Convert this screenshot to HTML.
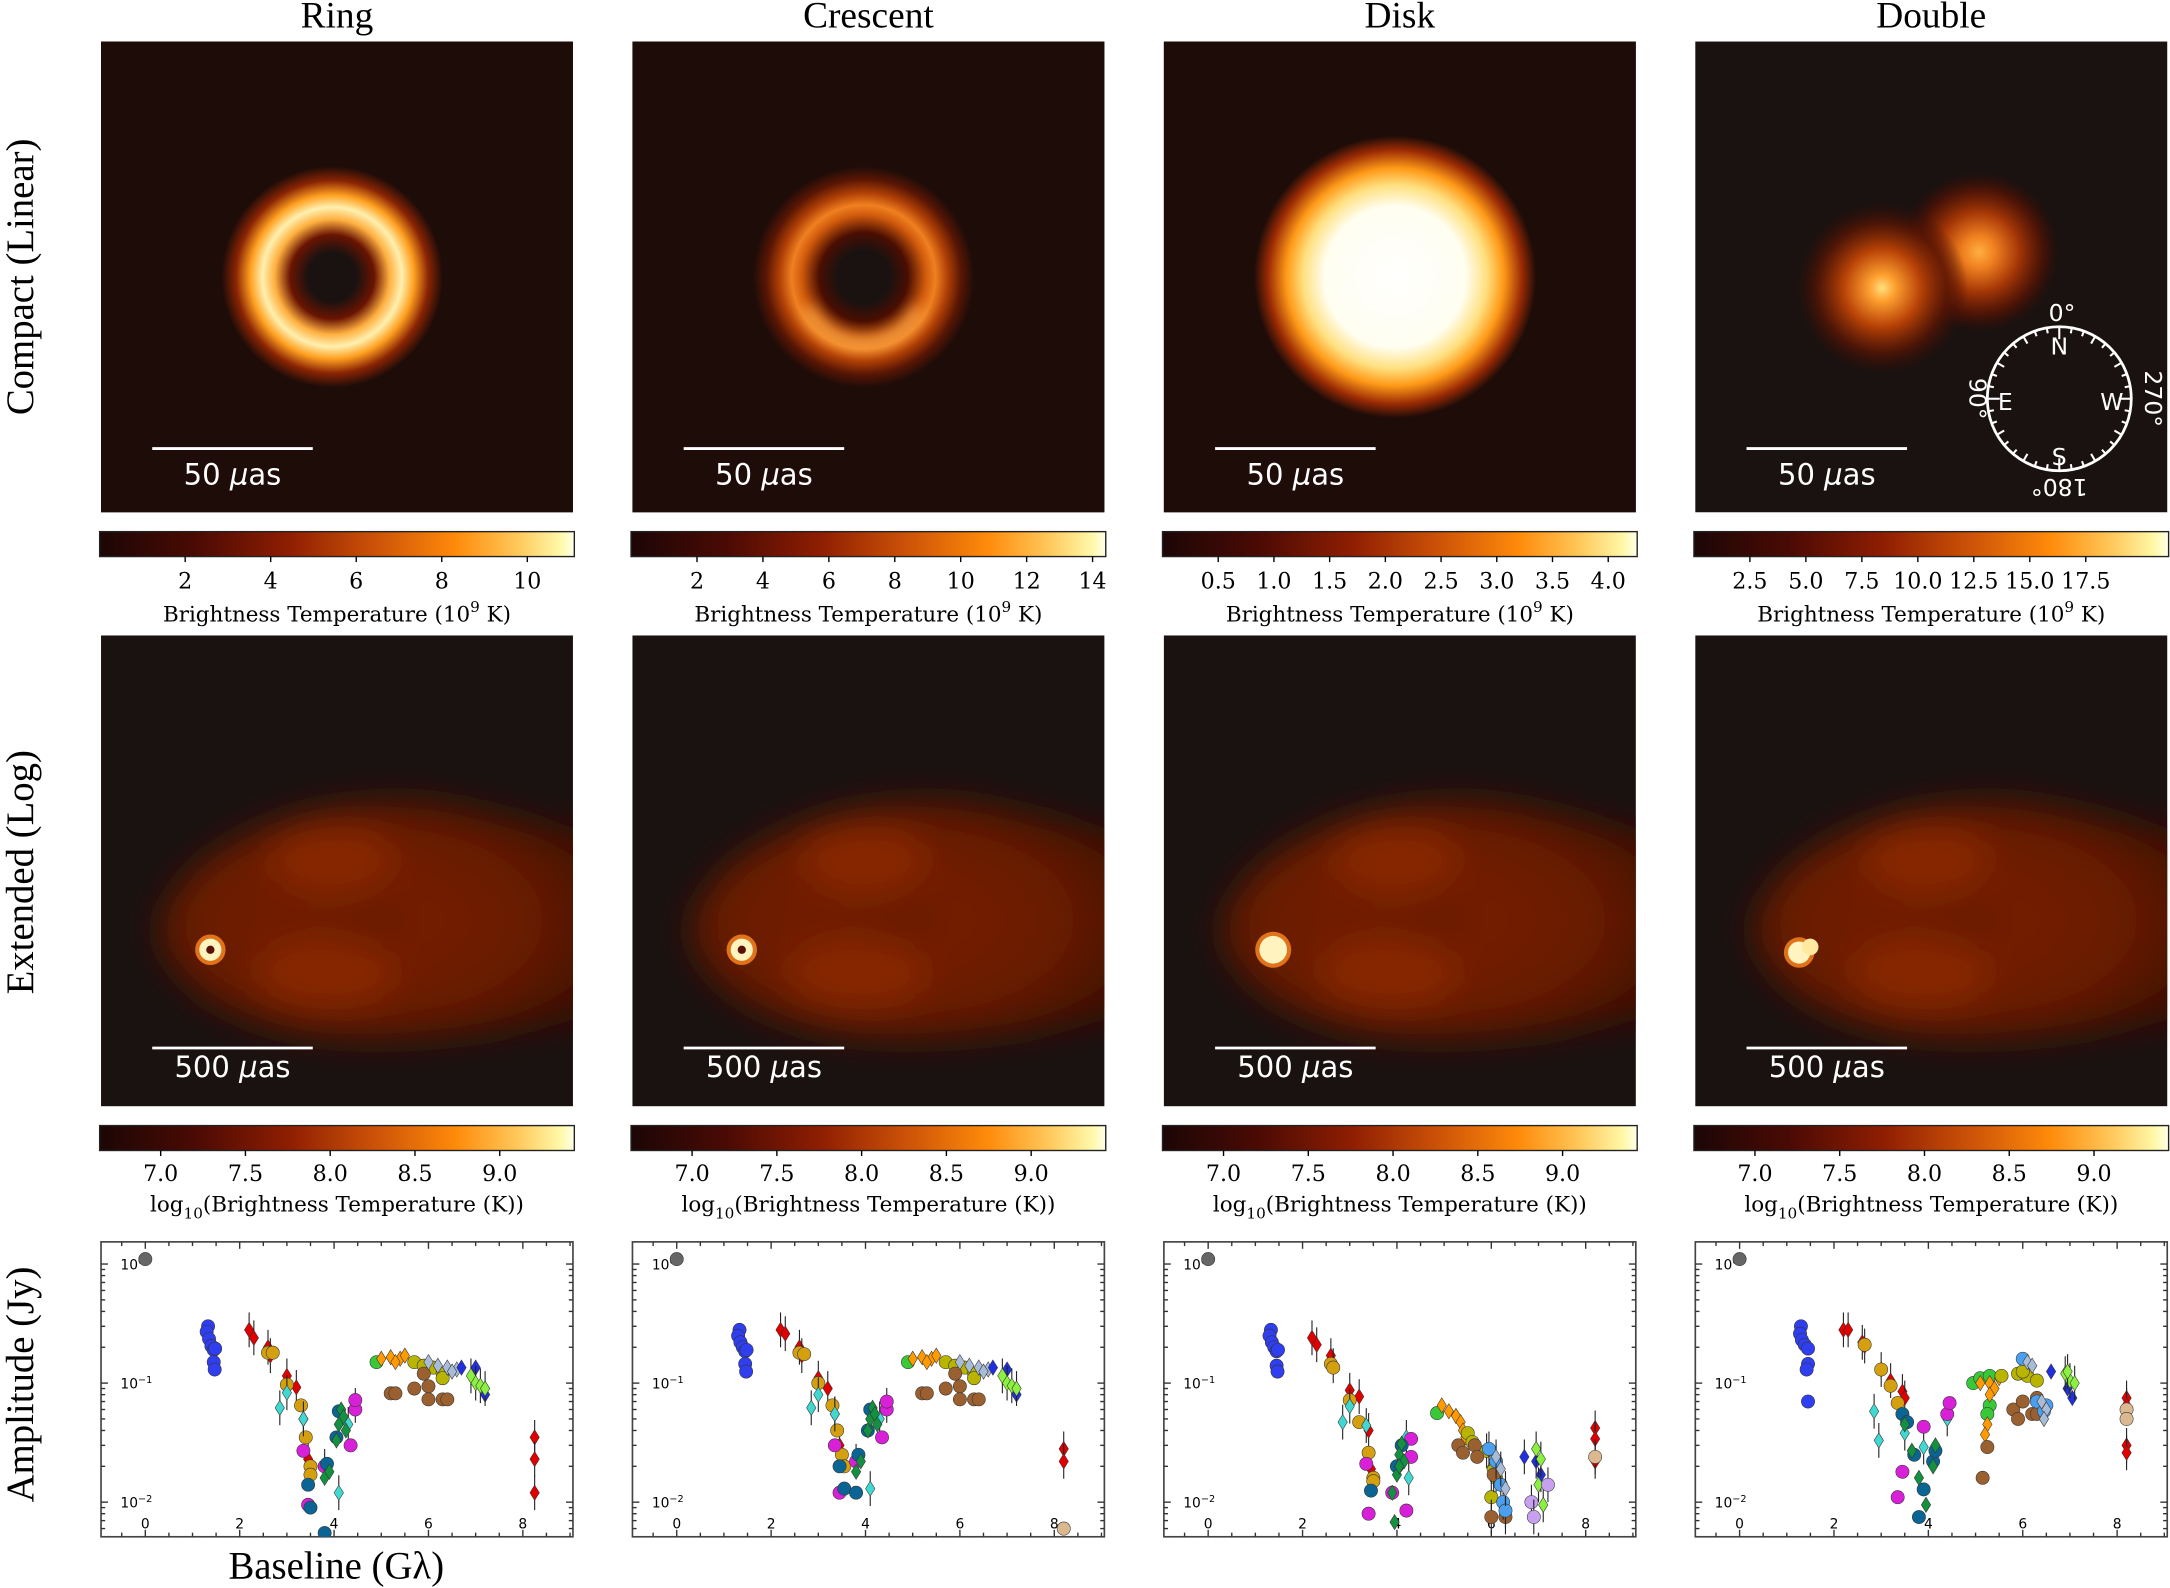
<!DOCTYPE html>
<html><head><meta charset="utf-8"><style>
html,body{margin:0;padding:0;background:#fff;}
svg{display:block;}
.ti{font-family:"Liberation Serif",serif;font-size:27px;fill:#000;}
.rl{font-family:"Liberation Serif",serif;font-size:28px;fill:#000;}
.tk{font-family:"DejaVu Serif","Liberation Serif",serif;font-size:16px;fill:#000;}
.cl{font-family:"DejaVu Serif","Liberation Serif",serif;font-size:15.5px;fill:#000;}
.sb{font-family:"DejaVu Sans","Liberation Sans",sans-serif;font-size:21px;fill:#fff;}
.cp{font-family:"DejaVu Sans","Liberation Sans",sans-serif;font-size:17px;fill:#fff;}
.sm{font-family:"DejaVu Sans","Liberation Sans",sans-serif;font-size:10px;fill:#000;}
</style></head><body>
<svg id="fig" xmlns="http://www.w3.org/2000/svg" width="2170" height="1588" viewBox="0 0 1568 1147" preserveAspectRatio="none">
<defs>
<linearGradient id="cmap" x1="0" x2="1" y1="0" y2="0">
<stop offset="0" stop-color="#1c0606"/><stop offset="0.2" stop-color="#4a0a04"/><stop offset="0.4" stop-color="#8f1e02"/><stop offset="0.6" stop-color="#d25808"/><stop offset="0.75" stop-color="#ff8a0a"/><stop offset="0.88" stop-color="#ffc85a"/><stop offset="0.97" stop-color="#fff8a8"/><stop offset="1" stop-color="#ffffe8"/>
</linearGradient>
<radialGradient id="gRing" gradientUnits="userSpaceOnUse" cx="240" cy="200" r="80">
<stop offset="0" stop-color="#1a1210"/><stop offset="0.22" stop-color="#1a1210"/><stop offset="0.38" stop-color="#6a1402"/><stop offset="0.52" stop-color="#ffb040"/><stop offset="0.63" stop-color="#fff0b0"/><stop offset="0.74" stop-color="#ffa020"/><stop offset="0.87" stop-color="#8a2404"/><stop offset="1" stop-color="#1e0c08"/>
</radialGradient>
<radialGradient id="gCres" gradientUnits="userSpaceOnUse" cx="624" cy="200" r="80">
<stop offset="0" stop-color="#1a1210"/><stop offset="0.24" stop-color="#1a1210"/><stop offset="0.4" stop-color="#4a0e02"/><stop offset="0.56" stop-color="#d05a0c"/><stop offset="0.65" stop-color="#f08020"/><stop offset="0.76" stop-color="#b04006"/><stop offset="0.88" stop-color="#5a1604"/><stop offset="1" stop-color="#1e0c08"/>
</radialGradient>
<radialGradient id="gDisk" gradientUnits="userSpaceOnUse" cx="1008" cy="200" r="102">
<stop offset="0" stop-color="#ffffff"/><stop offset="0.5" stop-color="#fffef0"/><stop offset="0.65" stop-color="#ffe080"/><stop offset="0.77" stop-color="#ff9a18"/><stop offset="0.9" stop-color="#9a2a04"/><stop offset="1" stop-color="#1e0c08"/>
</radialGradient>
<radialGradient id="gD1" gradientUnits="userSpaceOnUse" cx="1360" cy="208" r="62">
<stop offset="0" stop-color="#ffe080"/><stop offset="0.15" stop-color="#ffa030"/><stop offset="0.45" stop-color="#b84206"/><stop offset="0.75" stop-color="#5a1604" stop-opacity="0.8"/><stop offset="1" stop-color="#3a0c04" stop-opacity="0"/>
</radialGradient>
<radialGradient id="gD2" gradientUnits="userSpaceOnUse" cx="1430" cy="182" r="58">
<stop offset="0" stop-color="#ffb040"/><stop offset="0.2" stop-color="#f08020"/><stop offset="0.5" stop-color="#a43606"/><stop offset="0.78" stop-color="#581404" stop-opacity="0.8"/><stop offset="1" stop-color="#3a0c04" stop-opacity="0"/>
</radialGradient>
<radialGradient id="gExt" cx="0.45" cy="0.5" r="0.6">
<stop offset="0" stop-color="#7a2206"/><stop offset="0.6" stop-color="#6a1c06"/><stop offset="1" stop-color="#3e0e06"/>
</radialGradient>
<filter id="blur" x="-20%" y="-20%" width="140%" height="140%"><feGaussianBlur stdDeviation="12"/></filter>
<filter id="blurC" x="-50%" y="-50%" width="200%" height="200%"><feGaussianBlur stdDeviation="5"/></filter>
</defs>
</svg>
<script>
// ---- colorbar data ----
const colTitles = ["Ring","Crescent","Disk","Double"];
const cbLinTicks = [["2","4","6","8","10"],["2","4","6","8","10","12","14"],["0.5","1.0","1.5","2.0","2.5","3.0","3.5","4.0"],["2.5","5.0","7.5","10.0","12.5","15.0","17.5"]];
const cbLinVals = [[2,4,6,8,10],[2,4,6,8,10,12,14],[0.5,1,1.5,2,2.5,3,3.5,4],[2.5,5,7.5,10,12.5,15,17.5]];
const cbLinMax = [11.1,14.4,4.26,21.2];
const cbLogVals = [7.0,7.5,8.0,8.5,9.0];
const cbLogTicks = ["7.0","7.5","8.0","8.5","9.0"];
const cbLogMin = 6.64, cbLogMax = 9.44;
// ---- amplitude data (baseline Gλ, amplitude Jy, marker key) ----
const ringX = [0,1.33,1.3,1.35,1.4,1.45,1.48,1.45,1.47,2.2,2.3,2.6,2.65,3.0,3.2,3.35,3.45,8.25,8.25,8.25,2.6,2.7,3.0,3.3,3.4,3.5,3.5,2.85,3.0,3.35,3.8,4.1,4.3,4.45,3.35,3.45,3.8,4.35,4.45,4.45,3.45,3.5,3.8,3.85,4.05,4.1,3.8,3.9,4.05,4.1,4.15,4.2,4.25,4.9,5.0,5.2,5.4,5.3,5.5,5.7,5.9,6.1,6.3,6.3,5.2,5.3,5.7,6.0,6.0,6.3,6.4,5.9,6.0,6.2,6.4,6.6,6.5,6.7,7.0,7.2,6.9,7.0,7.1,7.2];
const ringY = [1.1,0.30,0.27,0.235,0.205,0.19,0.195,0.15,0.13,0.28,0.24,0.2,0.17,0.115,0.092,0.05,0.023,0.035,0.023,0.012,0.18,0.18,0.097,0.065,0.035,0.02,0.017,0.062,0.083,0.05,0.02,0.012,0.045,0.065,0.027,0.0095,0.02,0.03,0.06,0.072,0.014,0.009,0.0055,0.021,0.035,0.058,0.016,0.018,0.033,0.045,0.06,0.052,0.04,0.15,0.16,0.165,0.16,0.15,0.17,0.15,0.14,0.135,0.12,0.11,0.082,0.082,0.09,0.094,0.073,0.073,0.073,0.12,0.15,0.14,0.135,0.13,0.125,0.135,0.135,0.08,0.115,0.1,0.095,0.09];
const ringC = ["g","b","b","b","b","b","b","b","b","r","r","r","r","r","r","r","r","r","r","r","o","o","o","o","o","o","o","c","c","c","c","c","c","c","m","m","m","m","m","m","t","t","t","t","t","t","dg","dg","dg","dg","dg","dg","dg","gc","od","od","od","od","od","y","y","y","y","y","br","br","br","br","br","br","br","br","sd","sd","sd","sd","sd","bd","bd","bd","lg","lg","lg","lg"];
const cresX = [0,1.33,1.3,1.35,1.4,1.45,1.48,1.45,1.47,2.2,2.3,2.6,2.65,3.0,3.2,3.35,3.45,8.2,8.2,2.6,2.7,3.0,3.3,3.4,3.5,3.55,2.85,3.0,3.35,3.8,4.1,4.3,4.45,3.35,3.45,3.8,4.35,4.45,4.45,3.45,3.55,3.8,3.85,4.05,4.1,3.8,3.9,4.05,4.1,4.15,4.2,4.25,4.9,5.0,5.2,5.4,5.3,5.5,5.7,5.9,6.1,6.3,6.3,5.2,5.3,5.7,6.0,6.0,6.3,6.4,5.9,6.0,6.2,6.4,6.6,6.5,6.7,7.0,7.2,6.9,7.0,7.1,7.2,8.2];
const cresY = [1.1,0.28,0.25,0.22,0.2,0.185,0.19,0.145,0.125,0.28,0.26,0.2,0.17,0.11,0.09,0.055,0.03,0.028,0.022,0.18,0.175,0.1,0.065,0.04,0.025,0.02,0.062,0.08,0.055,0.022,0.013,0.05,0.065,0.03,0.012,0.022,0.035,0.06,0.07,0.02,0.013,0.012,0.025,0.04,0.06,0.018,0.022,0.04,0.05,0.062,0.055,0.045,0.15,0.16,0.165,0.16,0.15,0.17,0.15,0.14,0.135,0.12,0.11,0.082,0.082,0.09,0.094,0.073,0.073,0.073,0.12,0.15,0.14,0.135,0.13,0.125,0.135,0.13,0.08,0.115,0.1,0.095,0.09,0.006];
const cresC = ["g","b","b","b","b","b","b","b","b","r","r","r","r","r","r","r","r","r","r","o","o","o","o","o","o","o","c","c","c","c","c","c","c","m","m","m","m","m","m","t","t","t","t","t","t","dg","dg","dg","dg","dg","dg","dg","gc","od","od","od","od","od","y","y","y","y","y","br","br","br","br","br","br","br","br","sd","sd","sd","sd","sd","bd","bd","bd","lg","lg","lg","lg","tan"];
const diskX = [0,1.33,1.3,1.35,1.4,1.45,1.48,1.45,1.47,2.2,2.3,2.6,2.65,3.0,3.2,3.4,3.45,8.2,8.2,8.2,2.6,2.65,3.0,3.2,3.4,3.5,3.5,2.85,3.0,3.35,4.2,4.25,3.35,3.4,3.9,4.2,4.3,4.3,3.45,4.0,4.1,3.9,3.95,4.0,4.05,4.1,4.15,4.05,4.85,4.95,5.1,5.25,5.35,5.4,5.45,5.5,5.6,5.9,6.05,6.1,6.0,5.3,5.4,5.65,5.7,6.05,6.0,6.3,5.95,6.1,6.2,6.25,6.3,6.1,6.2,6.3,6.7,6.95,7.05,6.95,7.05,7.1,7.0,6.85,6.9,7.2,8.2];
const diskY = [1.1,0.28,0.25,0.22,0.2,0.185,0.19,0.14,0.125,0.24,0.21,0.17,0.14,0.087,0.077,0.04,0.019,0.042,0.034,0.022,0.145,0.135,0.072,0.047,0.026,0.016,0.015,0.047,0.064,0.044,0.035,0.016,0.021,0.008,0.012,0.0085,0.024,0.034,0.0125,0.02,0.03,0.012,0.0068,0.017,0.025,0.031,0.022,0.02,0.056,0.065,0.058,0.053,0.047,0.04,0.035,0.038,0.032,0.027,0.019,0.016,0.011,0.03,0.026,0.03,0.024,0.017,0.0075,0.0075,0.028,0.022,0.014,0.01,0.0085,0.024,0.019,0.013,0.024,0.022,0.017,0.028,0.023,0.0095,0.014,0.01,0.0075,0.014,0.024];
const diskC = ["g","b","b","b","b","b","b","b","b","r","r","r","r","r","r","r","r","r","r","r","o","o","o","o","o","o","o","c","c","c","c","c","m","m","m","m","m","m","t","t","t","dg","dg","dg","dg","dg","dg","dg","gc","od","od","od","od","od","od","y","y","y","y","y","y","br","br","br","br","br","br","br","lb","lb","lb","lb","lb","sd","sd","sd","bd","bd","bd","lg","lg","lg","lg","lv","lv","lv","tan"];
const dblX = [0,1.3,1.28,1.32,1.38,1.45,1.45,1.42,1.45,2.2,2.3,2.6,2.65,3.0,3.2,3.45,3.5,8.2,8.2,8.2,8.2,2.65,3.0,3.2,3.35,2.85,2.95,3.5,3.9,4.4,3.35,3.45,3.9,4.4,4.45,3.45,3.55,3.7,3.9,3.8,4.1,4.15,3.5,3.65,3.8,3.95,4.1,4.15,4.95,5.1,5.3,5.25,5.3,5.1,5.3,5.4,5.5,5.3,5.25,5.2,5.55,5.9,6.1,6.3,6.0,5.25,5.15,5.8,5.9,6.2,6.3,6.0,6.3,6.0,6.3,6.5,6.45,6.1,6.2,6.4,6.5,6.45,6.6,6.95,7.05,6.9,7.0,7.1,6.95,8.2,8.2];
const dblY = [1.1,0.3,0.26,0.23,0.21,0.195,0.145,0.13,0.07,0.28,0.28,0.22,0.205,0.13,0.105,0.085,0.075,0.075,0.065,0.03,0.026,0.21,0.13,0.095,0.068,0.058,0.033,0.038,0.029,0.05,0.011,0.018,0.043,0.055,0.068,0.055,0.047,0.025,0.0128,0.0075,0.022,0.027,0.045,0.027,0.016,0.0095,0.02,0.03,0.1,0.11,0.065,0.055,0.115,0.1,0.1,0.09,0.11,0.08,0.045,0.037,0.115,0.12,0.115,0.105,0.125,0.029,0.016,0.06,0.05,0.055,0.055,0.07,0.075,0.16,0.07,0.065,0.058,0.15,0.14,0.07,0.06,0.05,0.125,0.09,0.075,0.12,0.105,0.1,0.125,0.06,0.05];
const dblC = ["g","b","b","b","b","b","b","b","b","r","r","r","r","r","r","r","r","r","r","r","r","o","o","o","o","c","c","c","c","c","m","m","m","m","m","t","t","t","t","t","t","t","dg","dg","dg","dg","dg","dg","gc","gc","gc","gc","gc","od","od","od","od","od","od","od","y","y","y","y","y","br","br","br","br","br","br","br","br","lb","lb","lb","lb","sd","sd","sd","sd","sd","bd","bd","bd","lg","lg","lg","lg","tan","tan"];
const ampX = [ringX,cresX,diskX,dblX];
const ampY = [ringY,cresY,diskY,dblY];
const ampC = [ringC,cresC,diskC,dblC];
const xTickVals = [0,2,4,6,8];
const yTickExp = [0,-1,-2];

// ---- styles (not data) ----
const STY = {g:["#666","c"],b:["#2f3ff0","c"],r:["#e00000","d"],o:["#d4a010","c"],c:["#40d8d0","d"],m:["#d820d8","c"],t:["#0a6494","c"],dg:["#139040","d"],gc:["#38c838","c"],od:["#ff9a00","d"],y:["#b8b400","c"],br:["#9a6030","c"],sd:["#a8bcd8","d"],bd:["#2030e0","d"],lg:["#8cf040","d"],lb:["#4aa0ee","c"],lv:["#c8a0f0","c"],tan:["#dcb890","c"]};
const NS="http://www.w3.org/2000/svg";
const svg=document.getElementById('fig');
const colL=[73,457,841,1225], PW=341;
function mk(tag,attrs,parent,text){const e=document.createElementNS(NS,tag);for(const k in attrs)e.setAttribute(k,attrs[k]);if(text!==undefined)e.textContent=text;(parent||svg).appendChild(e);return e;}

[["Compact (Linear)",200,"row-label-compact"],["Extended (Log)",630,"row-label-extended"],["Amplitude (Jy)",1000,"y-axis-title"]].forEach(r=>{
 const t=mk('text',{class:'rl',x:0,y:0,'text-anchor':'middle',transform:`translate(24,${r[1]}) rotate(-90)`},svg,r[0]);
 
 
});
const xt=mk('text',{class:'rl',x:243,y:1140,'text-anchor':'middle'},svg,"Baseline (Gλ)");



const compactFill=["url(#gRing)","url(#gCres)","url(#gDisk)",null];
const extDot=[[152,686,8],[536,686,8],[920,686,10],[1300,688,8]];

for(let c=0;c<4;c++){
 const L=colL[c];
 const g=mk('g',{});
 
 
 const tt=mk('text',{class:'ti',x:L+PW/2,y:20,'text-anchor':'middle'},g,colTitles[c]);
 
 
 const cp=mk('g',{},g);
 
 
 const ccid='cclip'+c;
 const ccp=mk('clipPath',{id:ccid},svg);mk('rect',{x:L,y:30,width:PW,height:340},ccp);
 mk('rect',{x:L,y:30,width:PW,height:340,fill:'#1a1210'},cp);
 if(c<3){mk('rect',{x:L,y:30,width:PW,height:340,fill:compactFill[c]},cp);}
 if(c===1){mk('path',{d:'M584,222 A44,44 0 0 0 664,222',fill:'none',stroke:'#ffc060','stroke-width':7,opacity:0.75,filter:'url(#blurC)'},cp);}
 if(c===3){mk('circle',{cx:1430,cy:182,r:58,fill:'url(#gD2)'},cp);mk('circle',{cx:1360,cy:208,r:62,fill:'url(#gD1)'},cp);}
 mk('line',{x1:L+37,x2:L+153,y1:324,y2:324,stroke:'#fff','stroke-width':2},cp);
 const sbt=mk('text',{class:'sb',x:L+95,y:350,'text-anchor':'middle'},cp);
 sbt.innerHTML='50 <tspan font-style="italic">μ</tspan>as';
 
 
 const cb=mk('g',{},g);
 
 
 mk('rect',{x:L-1,y:384,width:PW+2,height:18,fill:'url(#cmap)',stroke:'#222','stroke-width':1},cb);
 const step=(PW+2)/cbLinMax[c];
 cbLinVals[c].forEach((v,i)=>{const x=L-1+v*step;mk('line',{x1:x,x2:x,y1:402,y2:406,stroke:'#000'},cb);mk('text',{class:'tk',x:x,y:425,'text-anchor':'middle'},cb,cbLinTicks[c][i]);});
 const cl=mk('text',{class:'cl',x:L+PW/2,y:449,'text-anchor':'middle'},cb);
 cl.innerHTML='Brightness Temperature (10<tspan dy="-7" font-size="11">9</tspan><tspan dy="7"> K)</tspan>';
 const ep=mk('g',{},g);
 
 
 const cid='clip'+c;
 const cpth=mk('clipPath',{id:cid},svg);mk('rect',{x:L,y:459,width:PW,height:340},cpth);
 mk('rect',{x:L,y:459,width:PW,height:340,fill:'#1a1210'},ep);
 const eg=mk('g',{'clip-path':`url(#${cid})`},ep);
 const bl=mk('g',{filter:'url(#blur)'},eg);
 const o=L-73;
 mk('path',{d:`M${o+115},672 C${o+120},625 ${o+190},585 ${o+270},578 C${o+330},574 ${o+360},592 ${o+420},600 L${o+440},600 L${o+440},732 C${o+380},742 ${o+330},752 ${o+270},752 C${o+180},752 ${o+118},715 ${o+115},672 Z`,fill:'url(#gExt)'},bl);
 mk('ellipse',{cx:o+240,cy:620,rx:45,ry:25,fill:'#9a3008',opacity:0.55},bl);
 mk('ellipse',{cx:o+235,cy:703,rx:50,ry:25,fill:'#9a3008',opacity:0.55},bl);
 mk('path',{d:`M${o+190},664 L${o+280},640 L${o+300},664 L${o+280},690 Z`,fill:'#5a1606',opacity:0.4},bl);
 const d=extDot[c];
 mk('circle',{cx:d[0],cy:d[1],r:d[2]+3,fill:'#ff8a20',opacity:0.8},eg);
 mk('circle',{cx:d[0],cy:d[1],r:d[2],fill:'#fff4c0'},eg);
 if(c<2)mk('circle',{cx:d[0],cy:d[1],r:3,fill:'#5a1004'},eg);
 if(c===3)mk('circle',{cx:d[0]+8,cy:d[1]-4,r:6,fill:'#ffe8a0'},eg);
 mk('line',{x1:L+37,x2:L+153,y1:757,y2:757,stroke:'#fff','stroke-width':2},ep);
 const sb2=mk('text',{class:'sb',x:L+95,y:778,'text-anchor':'middle'},ep);
 sb2.innerHTML='500 <tspan font-style="italic">μ</tspan>as';
 
 
 const cb2=mk('g',{},g);
 
 
 mk('rect',{x:L-1,y:813,width:PW+2,height:18,fill:'url(#cmap)',stroke:'#222','stroke-width':1},cb2);
 const st2=(PW+2)/(cbLogMax-cbLogMin);
 cbLogVals.forEach((v,i)=>{const x=L-1+(v-cbLogMin)*st2;mk('line',{x1:x,x2:x,y1:831,y2:835,stroke:'#000'},cb2);mk('text',{class:'tk',x:x,y:853,'text-anchor':'middle'},cb2,cbLogTicks[i]);});
 const cl2=mk('text',{class:'cl',x:L+PW/2,y:875,'text-anchor':'middle'},cb2);
 cl2.innerHTML='log<tspan dy="5" font-size="11">10</tspan><tspan dy="-5">(Brightness Temperature (K))</tspan>';
 const ap=mk('g',{},g);
 
 
 const xm=v=>L+32+v*34.1;
 const ym=v=>913-86*Math.log10(v);
 const aid='aclip'+c;
 const ac=mk('clipPath',{id:aid},svg);mk('rect',{x:L,y:897,width:PW,height:213},ac);
 mk('rect',{x:L,y:897,width:PW,height:213,fill:'#fff',stroke:'#444','stroke-width':1.2},ap);
 for(let v=-0.5;v<=9.5;v+=0.5){const x=xm(v);if(x<L||x>L+PW)continue;const len=(v%2===0)?5:3;mk('line',{x1:x,x2:x,y1:897,y2:897+len,stroke:'#333'},ap);mk('line',{x1:x,x2:x,y1:1110,y2:1110-len,stroke:'#333'},ap);}
 for(let e=-3;e<=0;e++){for(let m=1;m<10;m++){const y=ym(m*Math.pow(10,e));if(y<897||y>1110)continue;const len=m===1?5:3;mk('line',{x1:L,x2:L+len,y1:y,y2:y,stroke:'#333'},ap);mk('line',{x1:L+PW,x2:L+PW-len,y1:y,y2:y,stroke:'#333'},ap);}}
 yTickExp.forEach(e=>{const t=mk('text',{class:'sm',x:L+14,y:ym(Math.pow(10,e))+4},ap);t.innerHTML=`10<tspan dy="-4" font-size="7">${e===0?'0':'−'+(-e)}</tspan>`;});
 xTickVals.forEach(v=>{mk('text',{class:'sm',x:xm(v),y:1104,'text-anchor':'middle'},ap,String(v));});
 const pg=mk('g',{'clip-path':`url(#${aid})`},ap);
 const X=ampX[c],Y=ampY[c],C=ampC[c];
 for(let i=0;i<X.length;i++){
  const s=STY[C[i]],x=xm(X[i]),y=ym(Y[i]);
  if(C[i]==='r'||C[i]==='c'||C[i]==='lg'||(c===2&&X[i]>5.8)){
   const e=mk('line',{x1:x,x2:x,y1:ym(Y[i]*1.4),y2:ym(Y[i]/1.4),stroke:'#222','stroke-width':0.8},pg);
   
   
  }
  let p;
  if(s[1]==='c'){p=mk('circle',{cx:x,cy:y,r:4.8,fill:s[0],stroke:'#333','stroke-width':0.4},pg);}
  else{p=mk('path',{d:`M${x},${y-5.5} L${x+3.4},${y} L${x},${y+5.5} L${x-3.4},${y} Z`,fill:s[0],stroke:'#333','stroke-width':0.4},pg);}
  
  
 }
}
const cg=mk('g',{});


const CX=1488,CY=288,R=52;
mk('circle',{cx:CX,cy:CY,r:R,fill:'none',stroke:'#fff','stroke-width':2},cg);
for(let a=0;a<360;a+=10){const r1=a%90===0?R-9:(a%30===0?R-6:R-4);const rad=a*Math.PI/180;mk('line',{x1:CX+R*Math.sin(rad),y1:CY-R*Math.cos(rad),x2:CX+r1*Math.sin(rad),y2:CY-r1*Math.cos(rad),stroke:'#fff','stroke-width':1.5},cg);}
[["N",CX,CY-32],["S",CX,CY+48],["E",CX-39,CY+8],["W",CX+38,CY+8]].forEach(a=>mk('text',{class:'cp',x:a[1],y:a[2],'text-anchor':'middle'},cg,a[0]));
mk('text',{class:'cp',x:CX+2,y:CY-56,'text-anchor':'middle','font-size':13},cg,"0°");
mk('text',{class:'cp',x:0,y:0,'text-anchor':'middle','font-size':13,transform:`translate(${CX-65},${CY}) rotate(90)`},cg,"90°");
mk('text',{class:'cp',x:0,y:0,'text-anchor':'middle','font-size':13,transform:`translate(${CX+62},${CY}) rotate(90)`},cg,"270°");
mk('text',{class:'cp',x:0,y:0,'text-anchor':'middle','font-size':13,transform:`translate(${CX},${CY+58}) rotate(180)`},cg,"180°");
</script>
</body></html>
